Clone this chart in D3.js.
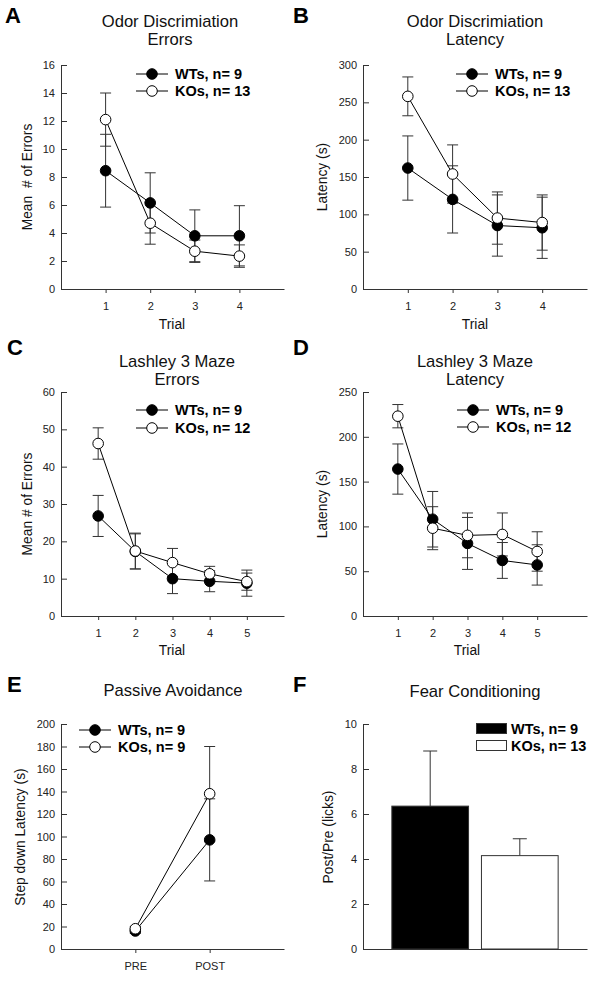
<!DOCTYPE html>
<html><head><meta charset="utf-8">
<script src="https://cdn.jsdelivr.net/npm/d3@7"></script>
<style>
html,body{margin:0;padding:0;background:#fff;}
svg{display:block;font-family:"Liberation Sans",Arial,sans-serif;}
</style></head>
<body>
<svg id="chart" width="600" height="981"></svg>
<script>
// ---------------- DATA ----------------
const seriesNames = ["WT", "KO"];

// A: Odor Discrimination Errors
const trialsA = [1, 2, 3, 4];
const wtA = [8.45, 6.15, 3.8, 3.8];
const wtAerr = [2.6, 2.15, 1.85, 2.15];
const koA = [12.1, 4.7, 2.7, 2.35];
const koAerr = [1.9, 1.5, 0.8, 0.8];
const ticksA = [0, 2, 4, 6, 8, 10, 12, 14, 16];
const legendA = ["WTs, n= 9", "KOs, n= 13"];

// B: Odor Discrimination Latency
const trialsB = [1, 2, 3, 4];
const wtB = [162, 120, 85, 82];
const wtBerr = [43, 45, 41, 41];
const koB = [258, 154, 95, 89];
const koBerr = [26, 39, 35, 37];
const ticksB = [0, 50, 100, 150, 200, 250, 300];
const legendB = ["WTs, n= 9", "KOs, n= 13"];

// C: Lashley 3 Maze Errors
const trialsC = [1, 2, 3, 4, 5];
const wtC = [26.8, 17.3, 10.0, 9.3, 8.8];
const wtCerr = [5.5, 4.7, 4.0, 2.8, 3.5];
const koC = [46.2, 17.4, 14.3, 11.3, 9.2];
const koCerr = [4.2, 4.8, 3.8, 2.0, 2.3];
const ticksC = [0, 10, 20, 30, 40, 50, 60];
const legendC = ["WTs, n= 9", "KOs, n= 12"];

// D: Lashley 3 Maze Latency
const trialsD = [1, 2, 3, 4, 5];
const wtD = [164, 108, 81, 62, 57];
const wtDerr = [28, 31, 29, 20, 22.5];
const koD = [223, 98, 90, 91, 72];
const koDerr = [13, 24, 25, 24, 22];
const ticksD = [0, 50, 100, 150, 200, 250];
const legendD = ["WTs, n= 9", "KOs, n= 12"];

// E: Passive Avoidance
const phasesE = ["PRE", "POST"];
const wtE = [16, 97];
const wtEerr = [2, 36.5];
const koE = [18, 138];
const koEerr = [2, 42];
const ticksE = [0, 20, 40, 60, 80, 100, 120, 140, 160, 180, 200];
const legendE = ["WTs, n= 9", "KOs, n= 9"];

// F: Fear Conditioning
const groupsF = ["WTs, n= 9", "KOs, n= 13"];
const valuesF = [6.35, 4.15];
const errorsF = [2.45, 0.75];
const ticksF = [0, 2, 4, 6, 8, 10];

// ---------------- DRAW ----------------
const svg = d3.select("#chart");
const FONT_TICK = 11, FONT_LABEL = 13.8, FONT_TITLE = 16.6, FONT_LEG = 14.5;
const AXIS_COLOR = "#333", ERR_COLOR = "#333";

function letter(txt, x, y) {
  svg.append("text").attr("x", x).attr("y", y).attr("font-size", 22)
    .attr("font-weight", "bold").attr("fill", "#000").text(txt);
}
function title(lines, cx, y0) {
  lines.forEach((l, i) => {
    svg.append("text").attr("x", cx).attr("y", y0 + i * 18).attr("text-anchor", "middle")
      .attr("font-size", FONT_TITLE).attr("fill", "#111").text(l);
  });
}
function yAxis(g, y, ticks, left) {
  const ax = d3.axisLeft(y).tickValues(ticks).tickSizeInner(-6).tickSizeOuter(0).tickPadding(6)
    .tickFormat(d3.format("d"));
  const a = g.append("g").attr("transform", `translate(${left},0)`).call(ax);
  a.selectAll("text").attr("font-size", FONT_TICK).attr("font-family", null).attr("fill", "#222");
  a.selectAll("line,path").attr("stroke", AXIS_COLOR);
}
function xAxis(g, x, ticks, fmt, bottom, ticksize) {
  const ax = d3.axisBottom(x).tickValues(ticks).tickSizeInner(ticksize).tickSizeOuter(0).tickPadding(9)
    .tickFormat(fmt);
  const a = g.append("g").attr("transform", `translate(0,${bottom})`).call(ax);
  a.selectAll("text").attr("font-size", FONT_TICK).attr("font-family", null).attr("fill", "#222");
  a.selectAll("line,path").attr("stroke", AXIS_COLOR);
  return a;
}
function yLabel(txt, xBase, cy) {
  svg.append("text").attr("transform", `translate(${xBase},${cy}) rotate(-90)`)
    .attr("text-anchor", "middle").attr("font-size", FONT_LABEL).attr("fill", "#111")
    .style("white-space", "pre").text(txt);
}
function xLabel(txt, cx, y) {
  svg.append("text").attr("x", cx).attr("y", y).attr("text-anchor", "middle")
    .attr("font-size", FONT_LABEL).attr("fill", "#111").text(txt);
}
function lineLegend(labels, x0, y0, dy) {
  labels.forEach((lab, i) => {
    const yy = y0 + i * dy;
    svg.append("line").attr("x1", x0).attr("x2", x0 + 32).attr("y1", yy).attr("y2", yy)
      .attr("stroke", "#000").attr("stroke-width", 1);
    svg.append("circle").attr("cx", x0 + 16).attr("cy", yy).attr("r", 5.3)
      .attr("fill", i === 0 ? "#000" : "#fff").attr("stroke", "#000").attr("stroke-width", 1);
    svg.append("text").attr("x", x0 + 39).attr("y", yy + 5.2).attr("font-size", FONT_LEG)
      .attr("font-weight", "bold").attr("fill", "#000").text(lab);
  });
}

function linePanel(o) {
  const g = svg.append("g");
  const x = d3.scaleLinear().domain(o.xdom).range([o.left, o.right]);
  const y = d3.scaleLinear().domain([o.ticks[0], o.ticks[o.ticks.length - 1]]).range([o.bottom, o.top]);
  yAxis(g, y, o.ticks, o.left);
  xAxis(g, x, o.xs, o.xfmt || d3.format("d"), o.bottom, 4);
  const series = [
    {v: o.wt, e: o.wtErr, fill: "#000"},
    {v: o.ko, e: o.koErr, fill: "#fff"}
  ];
  // error bars
  series.forEach(s => {
    const eg = g.append("g").attr("stroke", ERR_COLOR).attr("stroke-width", 1);
    o.xs.forEach((xv, i) => {
      const cx = x(xv), lo = y(s.v[i] - s.e[i]), hi = y(s.v[i] + s.e[i]);
      eg.append("line").attr("x1", cx).attr("x2", cx).attr("y1", lo).attr("y2", hi);
      eg.append("line").attr("x1", cx - 5.5).attr("x2", cx + 5.5).attr("y1", lo).attr("y2", lo);
      eg.append("line").attr("x1", cx - 5.5).attr("x2", cx + 5.5).attr("y1", hi).attr("y2", hi);
    });
  });
  const line = d3.line().x((d, i) => x(o.xs[i])).y(d => y(d));
  series.forEach(s => {
    g.append("path").datum(s.v).attr("d", line).attr("fill", "none")
      .attr("stroke", "#000").attr("stroke-width", 1);
  });
  series.forEach(s => {
    g.selectAll(null).data(s.v).enter().append("circle")
      .attr("cx", (d, i) => x(o.xs[i])).attr("cy", d => y(d)).attr("r", 5.3)
      .attr("fill", s.fill).attr("stroke", "#000").attr("stroke-width", 1);
  });
}

// Panel A
letter("A", 5, 23);
title(["Odor Discrimiation", "Errors"], 170, 26.5);
linePanel({left: 61, right: 284, top: 65, bottom: 289, xdom: [0, 5], xs: trialsA,
  ticks: ticksA, wt: wtA, wtErr: wtAerr, ko: koA, koErr: koAerr});
yLabel("Mean  # of Errors", 32, 177);
xLabel("Trial", 172, 329);
lineLegend(legendA, 136, 74, 17);

// Panel B
letter("B", 293, 23);
title(["Odor Discrimiation", "Latency"], 475, 26.5);
linePanel({left: 363, right: 587, top: 65, bottom: 289, xdom: [0, 5], xs: trialsB,
  ticks: ticksB, wt: wtB, wtErr: wtBerr, ko: koB, koErr: koBerr});
yLabel("Latency (s)", 327, 177);
xLabel("Trial", 475, 329);
lineLegend(legendB, 456, 74, 17);

// Panel C
letter("C", 7, 355);
title(["Lashley 3 Maze", "Errors"], 177, 366.5);
linePanel({left: 61, right: 284, top: 392, bottom: 616, xdom: [0, 6], xs: trialsC,
  ticks: ticksC, wt: wtC, wtErr: wtCerr, ko: koC, koErr: koCerr});
yLabel("Mean # of Errors", 32, 504);
xLabel("Trial", 172, 655);
lineLegend(legendC, 136, 410, 18);

// Panel D
letter("D", 293, 355);
title(["Lashley 3 Maze", "Latency"], 475, 366.5);
linePanel({left: 363, right: 587, top: 392, bottom: 616, xdom: [0, 6.43], xs: trialsD,
  ticks: ticksD, wt: wtD, wtErr: wtDerr, ko: koD, koErr: koDerr});
yLabel("Latency (s)", 327, 504);
xLabel("Trial", 467, 655);
lineLegend(legendD, 457, 410, 17);

// Panel E
letter("E", 7, 692);
title(["Passive Avoidance"], 173, 696);
linePanel({left: 61, right: 284, top: 724, bottom: 949, xdom: [0, 3], xs: [1, 2],
  xfmt: (d) => phasesE[d - 1],
  ticks: ticksE, wt: wtE, wtErr: wtEerr, ko: koE, koErr: koEerr});
yLabel("Step down Latency (s)", 25, 837);
lineLegend(legendE, 79, 730, 17);

// Panel F
letter("F", 293, 692);
title(["Fear Conditioning"], 475, 697);
(function () {
  const left = 363, right = 587, top = 724, bottom = 949;
  const g = svg.append("g");
  const x = d3.scaleBand().domain(groupsF).range([left, right]).paddingInner(0.144).paddingOuter(0.322);
  const y = d3.scaleLinear().domain([0, 10]).range([bottom, top]);
  yAxis(g, y, ticksF, left);
  const a = xAxis(g, x, [], () => "", bottom, 0);
  // error bars (upper only)
  groupsF.forEach((grp, i) => {
    const cx = x(grp) + x.bandwidth() / 2;
    const t = y(valuesF[i] + errorsF[i]);
    g.append("line").attr("x1", cx).attr("x2", cx).attr("y1", y(valuesF[i])).attr("y2", t)
      .attr("stroke", ERR_COLOR);
    g.append("line").attr("x1", cx - 7).attr("x2", cx + 7).attr("y1", t).attr("y2", t)
      .attr("stroke", ERR_COLOR);
  });
  g.selectAll("rect.bar").data(valuesF).enter().append("rect").attr("class", "bar")
    .attr("x", (d, i) => x(groupsF[i])).attr("width", x.bandwidth())
    .attr("y", d => y(d)).attr("height", d => bottom - y(d))
    .attr("fill", (d, i) => i === 0 ? "#000" : "#fff").attr("stroke", "#333").attr("stroke-width", 1);
  // legend
  groupsF.forEach((lab, i) => {
    const yy = 723 + i * 17;
    svg.append("rect").attr("x", 476.5).attr("y", yy + 0.5).attr("width", 30).attr("height", 10)
      .attr("fill", i === 0 ? "#000" : "#fff").attr("stroke", "#333");
    svg.append("text").attr("x", 511).attr("y", yy + 10.5).attr("font-size", FONT_LEG)
      .attr("font-weight", "bold").attr("fill", "#000").text(lab);
  });
})();
yLabel("Post/Pre (licks)", 333, 837);
</script>
</body></html>
